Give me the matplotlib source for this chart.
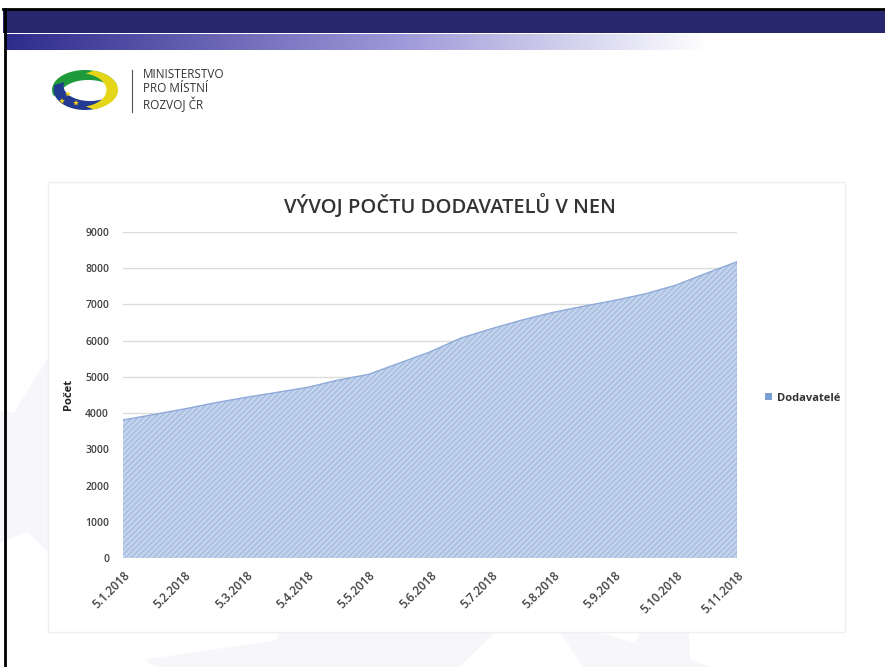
import numpy as np
import matplotlib
matplotlib.use("Agg")
import matplotlib.pyplot as plt
from matplotlib.patches import Rectangle, Polygon

W, H = 885, 667

# chart data (roughly two points per month)
positions = np.arange(0, 10.5, 0.5)
values = [3810, 3960, 4115, 4285, 4435, 4570, 4710, 4910, 5070, 5380,
          5690, 6070, 6330, 6570, 6780, 6950, 7110, 7290, 7530, 7860, 8180]
month_labels = ["5.1.2018", "5.2.2018", "5.3.2018", "5.4.2018", "5.5.2018",
                "5.6.2018", "5.7.2018", "5.8.2018", "5.9.2018", "5.10.2018",
                "5.11.2018"]
y_ticks = list(range(0, 9001, 1000))
title = "VÝVOJ POČTU DODAVATELŮ V NEN"
series_name = "Dodavatelé"
y_label = "Počet"
logo_lines = ["MINISTERSTVO", "PRO MÍSTNÍ", "ROZVOJ ČR"]

plt.rcParams["font.family"] = ["Open Sans", "DejaVu Sans"]
plt.rcParams["hatch.linewidth"] = 0.6


def fx(x):
    return x / W


def fy(y):
    return 1 - y / H


fig = plt.figure(figsize=(W / 100, H / 100), dpi=100)
fig.patch.set_facecolor("white")

# faint star watermark in the slide background
bg = fig.add_axes([0, 0, 1, 1], zorder=0)
bg.set_xlim(0, W)
bg.set_ylim(H, 0)
bg.axis("off")


def star(cx, cy, r, rot=0):
    ang = np.linspace(0, 2 * np.pi, 11)[:-1] + rot
    rad = np.where(np.arange(10) % 2 == 0, r, r * 0.42)
    return np.column_stack([cx + rad * np.sin(ang), cy - rad * np.cos(ang)])


for cx, cy, r, rot in [(40, 470, 150, 0.2), (330, 700, 190, -0.1), (650, 690, 120, 0.3)]:
    bg.add_patch(Polygon(star(cx, cy, r, rot), closed=True, facecolor="#f6f6fb", edgecolor="none"))

# white chart box
bg.add_patch(Rectangle((48, 182), 797, 450, facecolor="white", edgecolor="#efefef", lw=1))

# header band
bg.add_patch(Rectangle((3, 9), W, 24, facecolor="#27276e", edgecolor="none"))
bg.plot([3, W], [9, 9], color="black", lw=2)
grad = np.linspace(0, 1, 400)
c0 = np.array([0.18, 0.17, 0.55])
c1 = np.array([0.62, 0.60, 0.85])
c2 = np.array([1.0, 1.0, 1.0])
cols = np.where(grad[:, None] < 0.45,
                c0 + (c1 - c0) * (grad[:, None] / 0.45),
                c1 + (c2 - c1) * np.clip((grad[:, None] - 0.45) / 0.35, 0, 1))
bg.imshow(cols[None, :, :], extent=[5, W, 50, 34], aspect="auto", zorder=1)
bg.set_xlim(0, W)
bg.set_ylim(H, 0)
bg.plot([5, 5], [9, H], color="black", lw=2)

# logo
t = np.linspace(0, 1, 60)


def crescent(a0, a1, rx, ry, cx2, cy2, rx2, ry2):
    a = np.radians(a0 + (a1 - a0) * t)
    outer = np.column_stack([rx * np.cos(a), ry * np.sin(a)])
    inner = np.column_stack([cx2 + rx2 * np.cos(a[::-1]), cy2 + ry2 * np.sin(a[::-1])])
    pts = np.vstack([outer, inner])
    return np.column_stack([85 + pts[:, 0] * 33, 90 - pts[:, 1] * 20])


bg.add_patch(Polygon(crescent(15, 195, 1, 1, 0.1, -0.25, 0.85, 0.75), facecolor="#1f9a3a", edgecolor="none"))
bg.add_patch(Polygon(crescent(165, 300, 0.95, 1, 0.15, 0.2, 0.8, 0.75), facecolor="#223a8f", edgecolor="none"))
bg.add_patch(Polygon(crescent(-75, 75, 1, 1, -0.2, 0.0, 0.85, 0.85), facecolor="#e6d619", edgecolor="none"))
for sx, sy in [(68, 94), (62, 101), (76, 103)]:
    bg.add_patch(Polygon(star(sx, sy, 3), facecolor="#f2d21a", edgecolor="none"))
bg.plot([132, 132], [70, 112], color="#555555", lw=0.8)
for i, line in enumerate(logo_lines):
    bg.text(143, 74 + i * 15, line, fontsize=8.5, color="#333333", va="center", ha="left")

# chart title, centred on the chart box rather than the plot area
fig.text(fx(450), fy(206), title, fontsize=14.5, fontweight="semibold", color="#333333",
         ha="center", va="center")

# main chart
ax = fig.add_axes([fx(123), fy(558), fx(737) - fx(123), fy(232) - fy(558)], zorder=2)
ax.patch.set_alpha(0)
ax.fill_between(positions, values, 0, facecolor="#c3d3ec", edgecolor="#96b0da",
                hatch="//////", lw=0, zorder=2, label=series_name)
ax.plot(positions, values, color="#8eaad8", lw=1, zorder=3)
ax.plot([positions[-1], positions[-1]], [0, values[-1]], color="#8eaad8", lw=1, zorder=3)

ax.set_xlim(0, 10)
ax.set_ylim(0, 9000)
ax.set_yticks(y_ticks)
ax.set_yticklabels([str(v) for v in y_ticks], fontsize=7.5, color="#404040", fontweight="semibold")
ax.set_xticks(range(len(month_labels)))
ax.set_xticklabels(month_labels, rotation=45, ha="right", va="top", rotation_mode="anchor",
                   fontsize=8.5, color="#404040", fontweight="semibold")
ax.tick_params(axis="both", length=0, pad=10)
ax.tick_params(axis="x", pad=8)
ax.grid(axis="y", color="#dcdcdc", lw=1, zorder=0)
ax.set_axisbelow(True)
for s in ax.spines.values():
    s.set_visible(False)
ax.set_ylabel(y_label, fontsize=8, fontweight="bold", color="#222222", labelpad=8)

leg = ax.legend(loc="center left", bbox_to_anchor=(1.03, 0.49), frameon=False,
                handlelength=0.6, handleheight=0.6, handletextpad=0.4, fontsize=8)
for txt in leg.get_texts():
    txt.set_fontweight("bold")
    txt.set_color("#333333")
leg.legend_handles[0].set_hatch(None)
leg.legend_handles[0].set_facecolor("#7a9fd4")

fig.savefig("out.png", dpi=100)
